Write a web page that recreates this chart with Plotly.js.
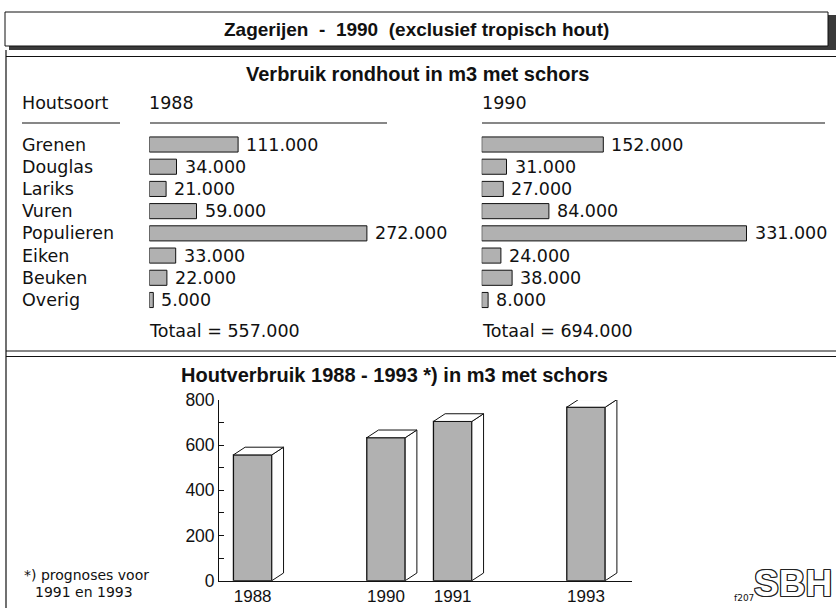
<!DOCTYPE html>
<html>
<head>
<meta charset="utf-8">
<script src="https://cdn.plot.ly/plotly-3.0.1.min.js"></script>
<style>
html,body{margin:0;padding:0;background:#fff;}
#chart{width:836px;height:608px;}
</style>
</head>
<body>
<div id="chart"></div>
<script>
// ---- data ----
const categories = ['Grenen', 'Douglas', 'Lariks', 'Vuren', 'Populieren', 'Eiken', 'Beuken', 'Overig'];
const values1988 = [111000, 34000, 21000, 59000, 272000, 33000, 22000, 5000];
const values1990 = [152000, 31000, 27000, 84000, 331000, 24000, 38000, 8000];
const panelYears = ['1988', '1990'];
const totals = [557000, 694000];
const trendYears = [1988, 1990, 1991, 1993];
const trendValues = [557, 633, 705, 768];
const trendTicks = [0, 200, 400, 600, 800];

// ---- helpers ----
const W = 836, H = 608;
const px = x => x / W;
const py = y => 1 - y / H;
const fmt = v => String(v).replace(/\B(?=(\d{3})+(?!\d))/g, '.');
const nb = '\u00a0';

const REG = {family: 'DejaVu Sans, Liberation Sans, Arial', size: 17.5, color: '#111'};
const BOLD = {family: 'Liberation Sans, Arial', size: 20, color: '#111', weight: 'bold'};
const NUM = {family: 'Liberation Sans, Arial', size: 17.5, color: '#111'};

const pattern = {shape: '.', fgcolor: '#707070', bgcolor: '#dcdcdc', size: 2, solidity: 0.45};

// ---- traces ----
const traces = [];
traces.push({
  type: 'bar', orientation: 'h', x: values1988, y: categories, xaxis: 'x', yaxis: 'y',
  width: 0.68, marker: {color: '#dcdcdc', pattern: pattern, line: {color: '#111', width: 1}},
  hoverinfo: 'skip', cliponaxis: false
});
traces.push({
  type: 'bar', orientation: 'h', x: values1990, y: categories, xaxis: 'x2', yaxis: 'y2',
  width: 0.68, marker: {color: '#dcdcdc', pattern: pattern, line: {color: '#111', width: 1}},
  hoverinfo: 'skip', cliponaxis: false
});

// bottom 3D columns
const bw = 0.576, half = bw / 2, dx = 0.1755, dy = 34.1;
traces.push({
  type: 'bar', x: trendYears, y: trendValues, xaxis: 'x3', yaxis: 'y3', width: bw,
  marker: {color: '#dcdcdc', pattern: pattern, line: {color: '#111', width: 1.3}},
  hoverinfo: 'skip', cliponaxis: false
});
const sx = [], sy = [], tx = [], ty = [];
trendYears.forEach((yr, i) => {
  const v = trendValues[i];
  sx.push(yr + half, yr + half + dx, yr + half + dx, yr + half, yr + half, null);
  sy.push(0, dy, v + dy, v, 0, null);
  tx.push(yr - half, yr - half + dx, yr + half + dx, yr + half, yr - half, null);
  ty.push(v, v + dy, v + dy, v, v, null);
});
traces.push({
  type: 'scatter', mode: 'lines', x: sx, y: sy, xaxis: 'x3', yaxis: 'y3',
  fill: 'toself', fillcolor: '#ffffff', line: {color: '#111', width: 1},
  hoverinfo: 'skip', cliponaxis: false, showlegend: false
});
traces.push({
  type: 'scatter', mode: 'lines', x: tx, y: ty, xaxis: 'x3', yaxis: 'y3',
  fill: 'toself', fillcolor: '#ffffff', line: {color: '#111', width: 1},
  hoverinfo: 'skip', cliponaxis: false, showlegend: false
});

// ---- annotations ----
const ann = [];
ann.push({xref: 'paper', yref: 'paper', x: px(416), y: py(30), xanchor: 'center', yanchor: 'middle',
  text: 'Zagerijen' + nb + nb + '-' + nb + nb + '1990' + nb + nb + '(exclusief tropisch hout)',
  showarrow: false, font: Object.assign({}, BOLD, {size: 19})});
ann.push({xref: 'paper', yref: 'paper', x: px(417), y: py(74), xanchor: 'center', yanchor: 'middle',
  text: 'Verbruik rondhout in m3 met schors', showarrow: false, font: BOLD});
ann.push({xref: 'paper', yref: 'paper', x: px(20), y: py(103), xanchor: 'left', yanchor: 'middle',
  text: 'Houtsoort', showarrow: false, font: REG});
ann.push({xref: 'paper', yref: 'paper', x: px(147), y: py(103), xanchor: 'left', yanchor: 'middle',
  text: panelYears[0], showarrow: false, font: REG});
ann.push({xref: 'paper', yref: 'paper', x: px(480), y: py(103), xanchor: 'left', yanchor: 'middle',
  text: panelYears[1], showarrow: false, font: REG});
categories.forEach(c => {
  ann.push({xref: 'paper', yref: 'y', x: px(20), y: c, xanchor: 'left', yanchor: 'middle',
    text: c, showarrow: false, font: REG});
});
categories.forEach((c, i) => {
  ann.push({xref: 'x', yref: 'y', x: values1988[i], y: c, xanchor: 'left', yanchor: 'middle',
    xshift: 6, text: fmt(values1988[i]), showarrow: false, font: REG});
  ann.push({xref: 'x2', yref: 'y2', x: values1990[i], y: c, xanchor: 'left', yanchor: 'middle',
    xshift: 6, text: fmt(values1990[i]), showarrow: false, font: REG});
});
ann.push({xref: 'paper', yref: 'paper', x: px(147), y: py(331), xanchor: 'left', yanchor: 'middle',
  text: 'Totaal = ' + fmt(totals[0]), showarrow: false, font: REG});
ann.push({xref: 'paper', yref: 'paper', x: px(480), y: py(331), xanchor: 'left', yanchor: 'middle',
  text: 'Totaal = ' + fmt(totals[1]), showarrow: false, font: REG});
ann.push({xref: 'paper', yref: 'paper', x: px(394.5), y: py(375), xanchor: 'center', yanchor: 'middle',
  text: 'Houtverbruik 1988 - 1993 *) in m3 met schors', showarrow: false, font: BOLD});
const FOOT = {family: 'DejaVu Sans, Liberation Sans', size: 14, color: '#111'};
ann.push({xref: 'paper', yref: 'paper', x: px(86), y: py(575), xanchor: 'center', yanchor: 'middle',
  text: '*) prognoses voor', showarrow: false, font: FOOT});
ann.push({xref: 'paper', yref: 'paper', x: px(84), y: py(592), xanchor: 'center', yanchor: 'middle',
  text: '1991 en 1993', showarrow: false, font: FOOT});
ann.push({xref: 'paper', yref: 'paper', x: px(732), y: py(598), xanchor: 'left', yanchor: 'middle',
  text: 'f207', showarrow: false, font: {family: 'DejaVu Sans', size: 9, color: '#111'}});
ann.push({xref: 'paper', yref: 'paper', x: px(752), y: py(583), xanchor: 'left', yanchor: 'middle',
  text: 'SBH', showarrow: false,
  font: {family: 'Liberation Sans, Arial', size: 37, weight: 'bold',
    color: '#ffffff',
    shadow: '1px 1px 0 #222, -1px -1px 0 #222, 1px -1px 0 #222, -1px 1px 0 #222, 0 1px 0 #222, 0 -1px 0 #222, 1px 0 0 #222, -1px 0 0 #222'}});

// ---- shapes (frame) ----
const shapes = [];
const line = (x0, y0, x1, y1, w) => ({type: 'line', xref: 'paper', yref: 'paper',
  x0: px(x0), y0: py(y0), x1: px(x1), y1: py(y1), line: {color: '#111', width: w || 1}});
shapes.push({type: 'rect', xref: 'paper', yref: 'paper', x0: px(9), x1: px(836), y0: py(50), y1: py(15),
  fillcolor: '#3a3a3a', line: {width: 0}, layer: 'below'});
shapes.push({type: 'rect', xref: 'paper', yref: 'paper', x0: px(5), x1: px(828), y0: py(46), y1: py(12),
  fillcolor: '#ffffff', line: {color: '#111', width: 1}, layer: 'below'});
shapes.push(line(6, 50, 6, 608, 1.2));
shapes.push(line(6, 56.5, 836, 56.5, 1.2));
shapes.push(line(6, 351, 836, 351, 1.2));
shapes.push(line(6, 356.5, 836, 356.5, 1.2));
shapes.push(line(22, 123, 120, 123, 1.2));
shapes.push(line(150, 123, 387, 123, 1.2));
shapes.push(line(482, 123, 825, 123, 1.2));

const topY = [py(311.1), py(133.4)];
const hiddenX = {visible: false, fixedrange: true};
const layout = {
  width: W, height: H,
  margin: {l: 0, r: 0, t: 0, b: 0},
  paper_bgcolor: '#ffffff', plot_bgcolor: 'rgba(0,0,0,0)',
  showlegend: false,
  separators: ',.',
  bargap: 0,
  xaxis: Object.assign({}, hiddenX, {domain: [px(149.3), px(389.3)], range: [0, 300000], anchor: 'y'}),
  yaxis: {visible: false, domain: topY, range: [7.5, -0.5], type: 'category', anchor: 'x'},
  xaxis2: Object.assign({}, hiddenX, {domain: [px(481.7), px(801.7)], range: [0, 400000], anchor: 'y2'}),
  yaxis2: {visible: false, domain: topY, range: [7.5, -0.5], type: 'category', anchor: 'x2'},
  xaxis3: {domain: [px(219.3), px(632)], range: [1987.5, 1993.69], anchor: 'y3',
    showline: true, linecolor: '#111', linewidth: 1.2, showgrid: false, zeroline: false,
    tickmode: 'array', tickvals: trendYears, ticktext: trendYears.map(String), ticks: '',
    ticklabelstandoff: 0, tickfont: Object.assign({}, NUM, {size: 17})},
  yaxis3: {domain: [py(580.7), py(400)], range: [0, 800], anchor: 'x3',
    showline: true, linecolor: '#111', linewidth: 1.2, showgrid: false, zeroline: false,
    tickmode: 'array', tickvals: trendTicks, ticks: 'inside', ticklen: 5, tickcolor: '#111',
    minor: {dtick: 100, tick0: 0, ticks: 'inside', ticklen: 5, tickcolor: '#111', showgrid: false},
    tickfont: NUM},
  annotations: ann,
  shapes: shapes
};

Plotly.newPlot('chart', traces, layout, {staticPlot: true, displayModeBar: false});
</script>
</body>
</html>
